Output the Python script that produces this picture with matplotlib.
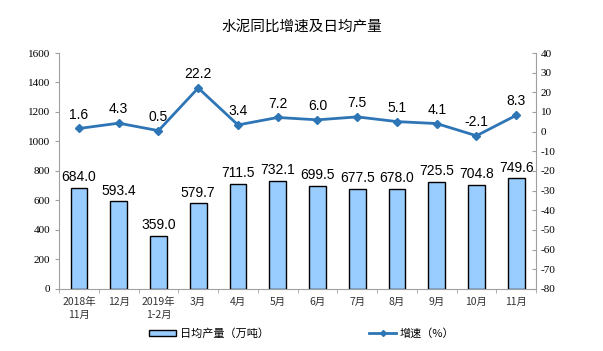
import numpy as np
import matplotlib
matplotlib.use("Agg")
import matplotlib.pyplot as plt
from matplotlib.lines import Line2D
from matplotlib.patches import Patch

plt.rcParams["axes.unicode_minus"] = False

months = ["2018年\n11月", "12月", "2019年\n1-2月", "3月", "4月", "5月",
          "6月", "7月", "8月", "9月", "10月", "11月"]
output = [684.0, 593.4, 359.0, 579.7, 711.5, 732.1, 699.5, 677.5, 678.0, 725.5, 704.8, 749.6]
growth = [1.6, 4.3, 0.5, 22.2, 3.4, 7.2, 6.0, 7.5, 5.1, 4.1, -2.1, 8.3]

cjk = ["Noto Sans CJK SC", "DejaVu Sans"]
serif = "Liberation Serif"
sans = "Liberation Sans"
bar_color = "#99ccff"
line_color = "#2e75b6"
axis_gray = "#a0a0a0"

fig = plt.figure(figsize=(6.03, 3.51), dpi=100)
ax = fig.add_axes([0.098, 0.177, 0.791, 0.672])
ax2 = ax.twinx()

x = np.arange(len(months))
ax.bar(x, output, width=0.42, color=bar_color, edgecolor="black", linewidth=1.0, zorder=2)
for xi, v in zip(x, output):
    ax.text(xi, v + 25, f"{v:.1f}", ha="center", va="bottom", fontsize=10, family=sans)

ax.set_ylim(0, 1600)
ax.set_yticks(np.arange(0, 1601, 200))
ax.set_xlim(-0.5, len(months) - 0.5)
ax.set_xticks(x)
ax.set_xticklabels(months, fontsize=7.5, family=cjk, color="#333333", linespacing=1.3)
ax.tick_params(axis="x", length=0, pad=6)
ax.set_xticks(np.arange(-0.5, len(months), 1), minor=True)
ax.tick_params(axis="x", which="minor", length=3, color=axis_gray, direction="out")
ax.tick_params(axis="y", labelsize=8, length=3, color=axis_gray, direction="out")
for lab in ax.get_yticklabels():
    lab.set_family(serif)

ax2.plot(x, growth, color=line_color, linewidth=2, marker="D", markersize=4, zorder=3)
for xi, v in zip(x, growth):
    ax2.text(xi, v + 3.5, f"{v:.1f}", ha="center", va="bottom", fontsize=10, family=sans)
ax2.set_ylim(-80, 40)
ax2.set_yticks(np.arange(-80, 41, 10))
ax2.tick_params(axis="y", labelsize=8, length=3, color=axis_gray, direction="in")
for lab in ax2.get_yticklabels():
    lab.set_family(serif)

for a in (ax, ax2):
    a.spines["top"].set_visible(False)
    for s in ("left", "right", "bottom"):
        a.spines[s].set_color(axis_gray)
ax.spines["right"].set_visible(False)
ax2.spines["left"].set_visible(False)
ax2.spines["bottom"].set_visible(False)

fig.text(0.5, 0.923, "水泥同比增速及日均产量", ha="center", va="center", fontsize=10.5, family=cjk)

handles = [Patch(facecolor=bar_color, edgecolor="black", linewidth=1.0),
           Line2D([], [], color=line_color, linewidth=2, marker="D", markersize=3)]
labels = ["日均产量（万吨）", "增速（%）"]
fig.legend(handles, labels, loc="center", bbox_to_anchor=(0.5, 0.05), ncol=2, frameon=False,
           prop={"family": cjk, "size": 8}, columnspacing=9, handlelength=2.5, handleheight=0.5,
           handletextpad=0.3)

fig.savefig("out.png", dpi=100)
